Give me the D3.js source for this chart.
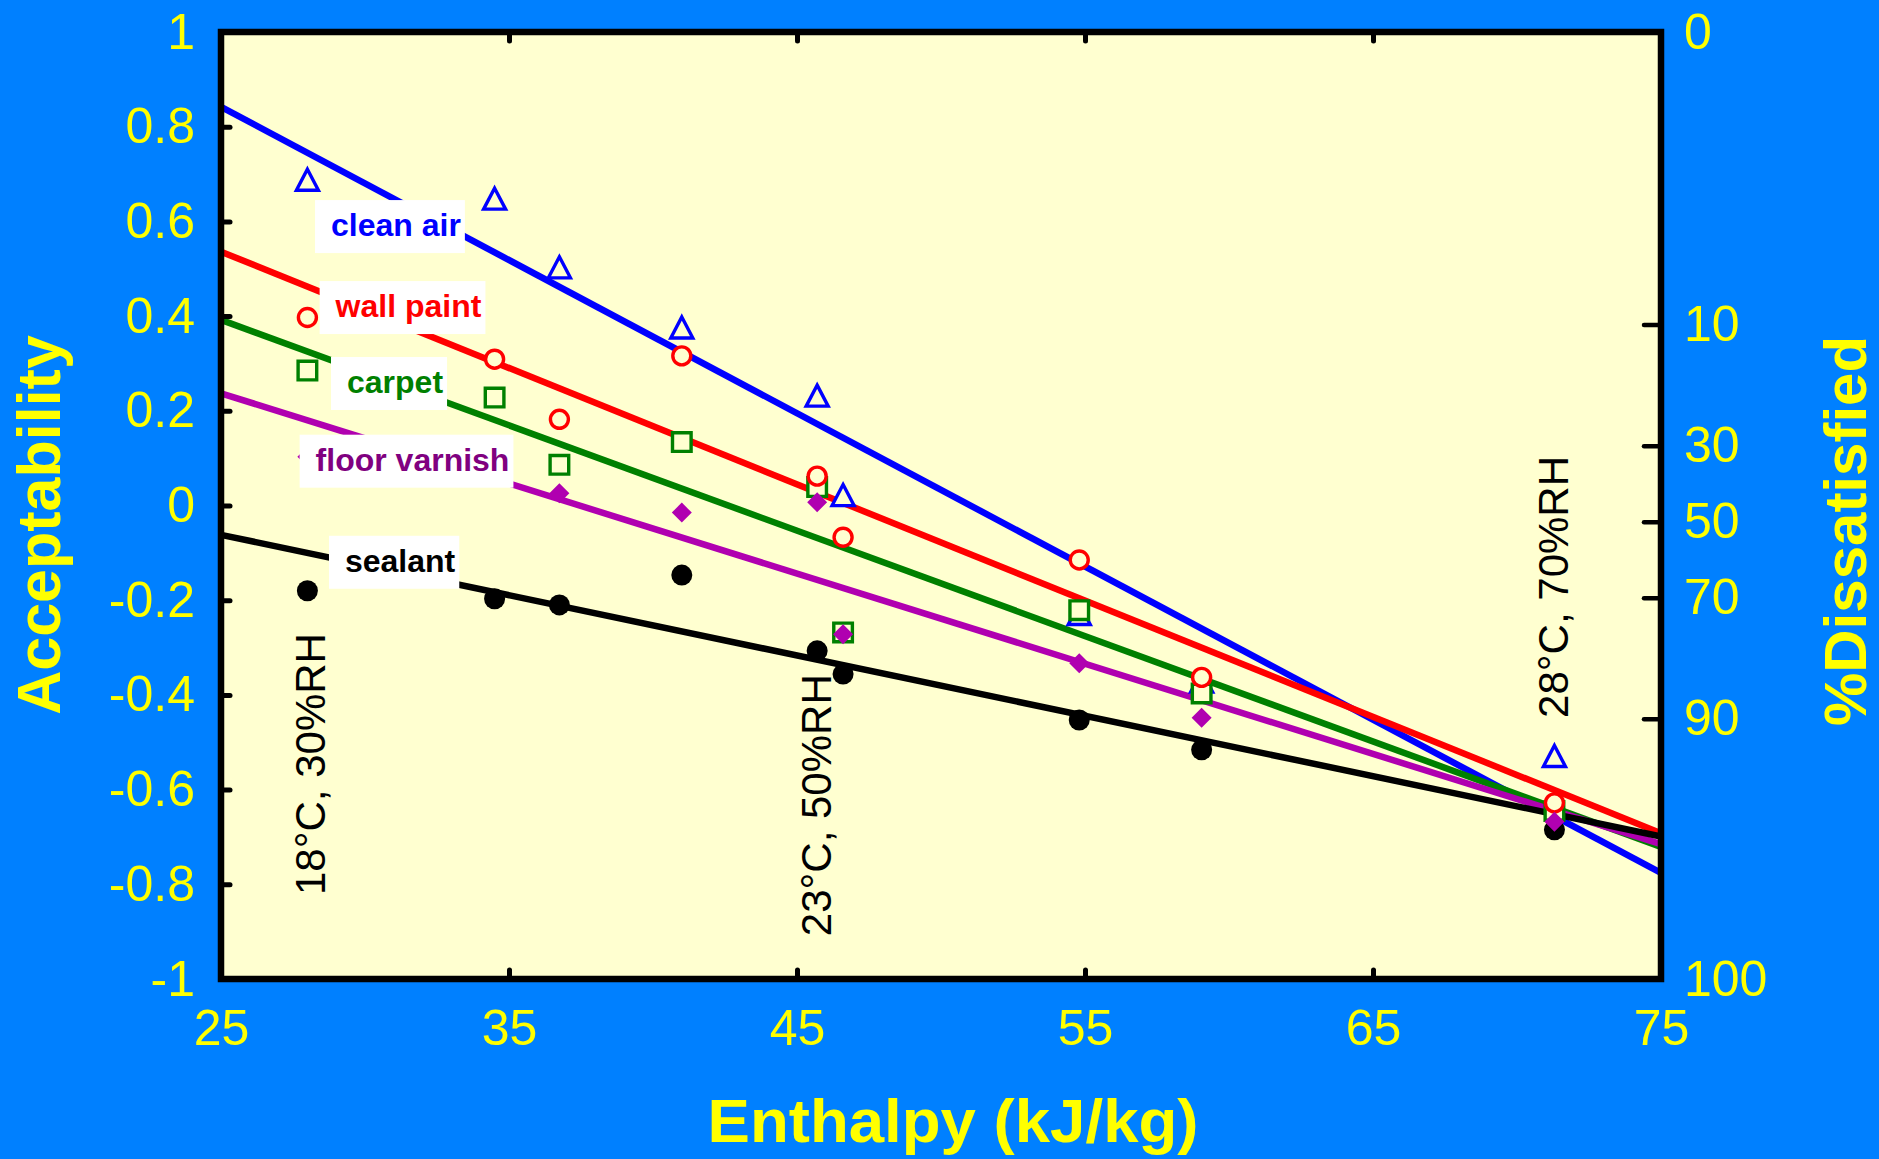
<!DOCTYPE html>
<html>
<head>
<meta charset="utf-8">
<script src="https://cdn.jsdelivr.net/npm/d3@7"></script>
<style>
  html, body { margin:0; padding:0; background:#0080ff; }
  svg { display:block; font-family:"Liberation Sans", Arial, sans-serif; }
</style>
</head>
<body>
<svg id="chart" width="1879" height="1159"></svg>
<script>
// enthalpy of the test conditions (kJ/kg)
var enthalpy = [28.0, 34.5, 36.75, 41.0, 45.7, 46.6, 54.8, 59.05, 71.3];

// acceptability votes per material
var cleanAir     = [0.688, 0.648, 0.503, 0.376, 0.232, 0.022, -0.229, -0.372, -0.529];
var wallPaint    = [0.397, 0.309, 0.182, 0.316, 0.062, -0.067, -0.115, -0.363, -0.628];
var carpet       = [0.285, 0.228, 0.086, 0.134, 0.039, -0.268, -0.221, -0.397, -0.645];
var floorVarnish = [0.103, null, 0.026, -0.015, 0.007, -0.272, -0.333, -0.448, -0.668];
var sealant      = [-0.180, -0.197, -0.210, -0.147, -0.307, -0.356, -0.453, -0.516, -0.685];

var seriesNames = ["clean air", "wall paint", "carpet", "floor varnish", "sealant"];

// fitted lines, acceptability read at enthalpy 25 and 75
var fitStart = [0.842, 0.536, 0.392, 0.237, -0.062];
var fitEnd   = [-0.776, -0.692, -0.721, -0.715, -0.699];

var xTicks = [25, 35, 45, 55, 65, 75];
var yTicks = [1, 0.8, 0.6, 0.4, 0.2, 0, -0.2, -0.4, -0.6, -0.8, -1];
var pdTicks = [0, 10, 30, 50, 70, 90, 100];

var conditions = ["18°C, 30%RH", "23°C, 50%RH", "28°C, 70%RH"];

// annotation anchors, in data units (enthalpy, acceptability)
var labelX = [28.82, 28.98, 29.375, 28.285, 29.305];
var labelY = [0.569, 0.398, 0.2376, 0.0735, -0.140];
var condX = [28.61, 46.18, 71.77];
var condY = [-0.546, -0.633, -0.172];

var lineColors = ["#0000ff", "#ff0000", "#008000", "#b000b0", "#000000"];
var textColors = ["#0000ff", "#ff0000", "#008000", "#800080", "#000000"];
var shapes = ["triangle", "circle", "square", "diamond", "dot"];
var plotBg = "#ffffd0";
var yellow = "#ffff00";

var svg = d3.select("#chart");
var x = d3.scaleLinear().domain([25, 75]).range([221, 1661]);
var y = d3.scaleLinear().domain([-1, 1]).range([979, 32]);

// percent dissatisfied <-> acceptability (Gunnarsen & Fanger)
function accFromPD(pd) {
	if (pd <= 0) return 1;
	if (pd >= 100) return -1;
	return -(Math.log(pd / (100 - pd)) + 0.18) / 5.28;
}

svg.append("rect").attr("width", 1879).attr("height", 1159).attr("fill", "#0080ff");
svg.append("rect")
	.attr("x", x(25)).attr("y", y(1))
	.attr("width", x(75) - x(25)).attr("height", y(-1) - y(1))
	.attr("fill", plotBg);

// fit lines
var series = [cleanAir, wallPaint, carpet, floorVarnish, sealant];
var line = d3.line().x(function(d){return x(d[0])}).y(function(d){return y(d[1])});
svg.append("g").selectAll("path")
	.data(series)
	.enter().append("path")
	.attr("d", function(d, i){return line([[25, fitStart[i]], [75, fitEnd[i]]])})
	.attr("fill", "none")
	.attr("stroke", function(d, i){return lineColors[i]})
	.attr("stroke-width", 6.5);

function markerPath(shape) {
	if (shape == "triangle") return "M0,-10.5L11,10.5L-11,10.5Z";
	if (shape == "square") return "M-9.3,-9.3H9.3V9.3H-9.3Z";
	if (shape == "diamond") return "M0,-10L10,0L0,10L-10,0Z";
	if (shape == "circle") return d3.symbol(d3.symbolCircle, Math.PI * 9 * 9)();
	return d3.symbol(d3.symbolCircle, Math.PI * 10.5 * 10.5)();
}

// markers, in the stacking order of the original
[0, 2, 1, 4, 3].forEach(function(i) {
	var pts = enthalpy.map(function(e, k){return {x: e, v: series[i][k]}})
		.filter(function(d){return d.v !== null});
	var filled = shapes[i] == "diamond" || shapes[i] == "dot";
	svg.append("g").selectAll("path")
		.data(pts)
		.enter().append("path")
		.attr("transform", function(d){return "translate(" + x(d.x) + "," + y(d.v) + ")"})
		.attr("d", markerPath(shapes[i]))
		.attr("fill", filled ? lineColors[i] : plotBg)
		.attr("stroke", filled ? "none" : lineColors[i])
		.attr("stroke-width", 3.4);
});

// series labels in white boxes
var labels = svg.append("g").attr("font-weight", "bold").attr("font-size", 32);
seriesNames.forEach(function(name, i) {
	var g = labels.append("g");
	var t = g.append("text")
		.attr("x", x(labelX[i])).attr("y", y(labelY[i]))
		.attr("fill", textColors[i])
		.text(name);
	var w = t.node().getComputedTextLength();
	g.insert("rect", "text")
		.attr("x", x(labelX[i]) - 16).attr("y", y(labelY[i]) - 36)
		.attr("width", w + 20).attr("height", 53)
		.attr("fill", "#ffffff");
});

// condition labels
svg.append("g").selectAll("text")
	.data(conditions)
	.enter().append("text")
	.attr("transform", function(d, i){return "translate(" + x(condX[i]) + "," + y(condY[i]) + ") rotate(-90)"})
	.attr("text-anchor", "middle")
	.attr("font-size", 42)
	.attr("fill", "#000")
	.text(function(d){return d});

// axes
function styleAxis(g, tickWidth) {
	g.select(".domain").remove();
	g.attr("font-family", null).attr("font-size", 50);
	g.selectAll(".tick line").attr("stroke", "#000").attr("stroke-width", tickWidth).attr("stroke-linecap", "round");
	g.selectAll(".tick text").attr("fill", yellow);
}

svg.append("g")
	.attr("transform", "translate(" + x(25) + ",0)")
	.call(d3.axisLeft(y).tickValues(yTicks).tickSize(-9).tickPadding(26).tickFormat(function(d){return String(d)}))
	.call(styleAxis, 5)
	.selectAll(".tick").filter(function(d){return Math.abs(d) == 1}).select("line").remove();

svg.append("g")
	.attr("transform", "translate(0," + y(-1) + ")")
	.call(d3.axisBottom(x).tickValues(xTicks).tickSize(-9).tickPadding(30))
	.call(styleAxis, 5)
	.selectAll(".tick").filter(function(d){return d == 25 || d == 75}).select("line").remove();

svg.append("g")
	.attr("transform", "translate(0," + y(1) + ")")
	.call(d3.axisTop(x).tickValues(xTicks.slice(1, -1)).tickSize(-9).tickFormat(""))
	.call(styleAxis, 5);

svg.append("g")
	.attr("transform", "translate(" + x(75) + ",0)")
	.call(d3.axisRight(y).tickValues(pdTicks.map(accFromPD)).tickSize(-17).tickPadding(23)
		.tickFormat(function(d, i){return pdTicks[i]}))
	.call(styleAxis, 4.5)
	.selectAll(".tick").filter(function(d){return Math.abs(d) == 1}).select("line").remove();

// frame
svg.append("rect")
	.attr("x", x(25)).attr("y", y(1))
	.attr("width", x(75) - x(25)).attr("height", y(-1) - y(1))
	.attr("fill", "none")
	.attr("stroke", "#000")
	.attr("stroke-width", 6.5);

// axis titles
svg.append("text")
	.attr("transform", "translate(60,525) rotate(-90)")
	.attr("text-anchor", "middle")
	.attr("font-weight", "bold").attr("font-size", 61)
	.attr("fill", yellow)
	.text("Acceptability");

svg.append("text")
	.attr("transform", "translate(1866,531) rotate(-90)")
	.attr("text-anchor", "middle")
	.attr("font-weight", "bold").attr("font-size", 60)
	.attr("fill", yellow)
	.text("%Dissatisfied");

svg.append("text")
	.attr("x", 953).attr("y", 1142)
	.attr("text-anchor", "middle")
	.attr("font-weight", "bold").attr("font-size", 61)
	.attr("textLength", 491).attr("lengthAdjust", "spacingAndGlyphs")
	.attr("fill", yellow)
	.text("Enthalpy (kJ/kg)");
</script>
</body>
</html>
